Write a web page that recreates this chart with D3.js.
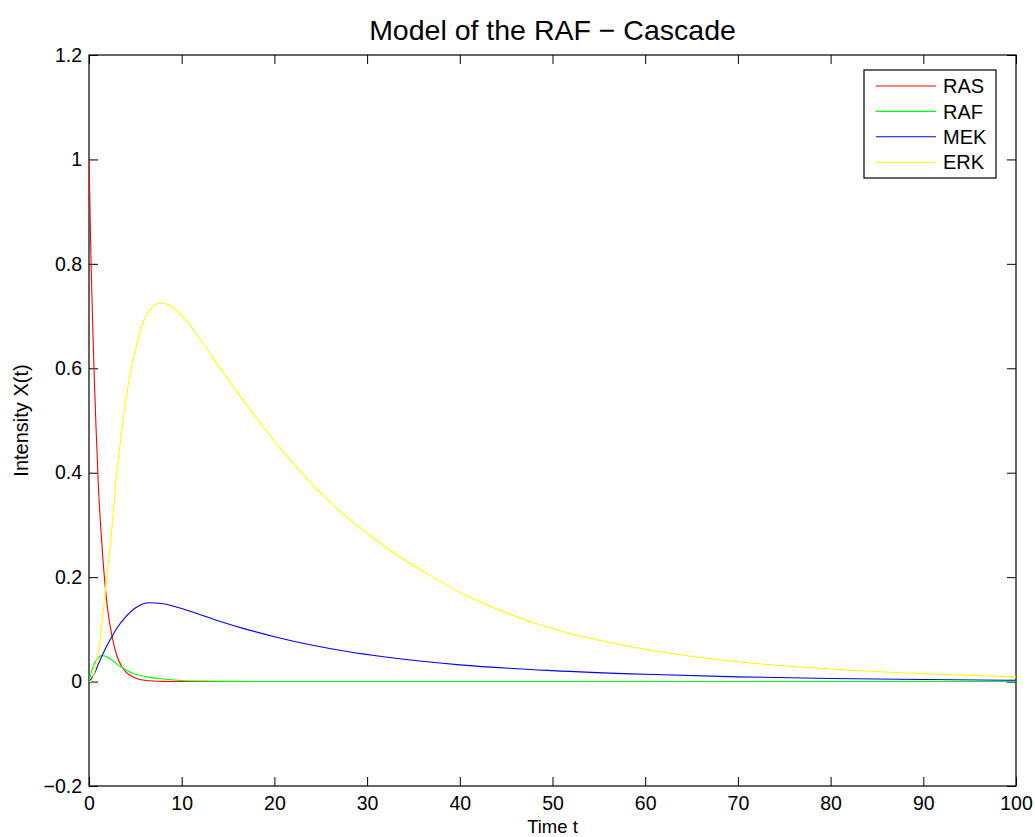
<!DOCTYPE html>
<html>
<head>
<meta charset="utf-8">
<script src="https://cdn.jsdelivr.net/npm/d3@7"></script>
<style>
  body { margin: 0; background: #fff; }
  text { font-family: "Liberation Sans", Arial, Helvetica, sans-serif; fill: #000; }
</style>
</head>
<body>
<div id="chart"></div>
<script>
/* Model of the RAF - Cascade: values */

var seriesNames = ["RAS", "RAF", "MEK", "ERK"],
  seriesColors = ["#ff0000", "#00ff00", "#0000ff", "#ffff00"];

var rasTime = [0, 0.25, 0.5, 0.75, 1, 1.25, 1.5, 2, 2.5, 3, 3.5, 4, 5, 6, 8, 10, 15, 100],
  rasValues = [1, 0.78, 0.62, 0.49, 0.38, 0.3, 0.235, 0.14, 0.085, 0.05, 0.03, 0.018, 0.007, 0.0025, 0.0004, 0, 0, 0];

var rafTime = [0, 0.25, 0.5, 0.75, 1, 1.4, 2, 2.5, 3, 3.5, 4, 5, 6, 7, 8, 10, 12, 15, 20, 100],
  rafValues = [0, 0.018, 0.031, 0.04, 0.046, 0.05, 0.047, 0.041, 0.034, 0.028, 0.022, 0.014, 0.01, 0.007, 0.005, 0.002, 0.001, 0.0003, 0, 0];

var mekTime = [0, 0.5, 1, 1.5, 2, 2.5, 3, 4, 5, 6.5, 8, 10, 12, 14, 17, 20, 24, 28, 32, 40, 50, 60, 70, 80, 90, 100],
  mekValues = [0, 0.012, 0.033, 0.053, 0.071, 0.087, 0.102, 0.125, 0.141, 0.151, 0.149, 0.14, 0.128, 0.116, 0.1, 0.086, 0.07, 0.057, 0.047, 0.032, 0.021, 0.014, 0.009, 0.006, 0.004, 0.0025];

var erkTime = [0, 0.3, 0.65, 1.2, 1.8, 2.4, 3, 3.5, 4.2, 5, 6, 7, 7.7, 8.5, 9.8, 11.5, 13.4, 17, 20, 22.8, 26.4, 30, 33.5, 37.1, 40.7, 44.3, 47.9, 51.5, 55.1, 60, 70, 80, 90, 100],
  erkValues = [0, 0.002, 0.022, 0.08, 0.18, 0.28, 0.4, 0.475, 0.565, 0.635, 0.695, 0.72, 0.725, 0.722, 0.705, 0.668, 0.619, 0.53, 0.461, 0.402, 0.337, 0.284, 0.239, 0.2, 0.165, 0.137, 0.113, 0.094, 0.079, 0.062, 0.038, 0.024, 0.015, 0.009];

var xTicks = [0, 10, 20, 30, 40, 50, 60, 70, 80, 90, 100],
  yTicks = [-0.2, 0, 0.2, 0.4, 0.6, 0.8, 1, 1.2];

var width = 1035,
  height = 837,
  margin = {top: 55, right: 19, bottom: 51, left: 89},
  tickLength = 9;

var plotW = width - margin.left - margin.right,
  plotH = height - margin.top - margin.bottom;

var series = [
  {name: seriesNames[0], color: seriesColors[0], t: rasTime, v: rasValues},
  {name: seriesNames[1], color: seriesColors[1], t: rafTime, v: rafValues},
  {name: seriesNames[2], color: seriesColors[2], t: mekTime, v: mekValues},
  {name: seriesNames[3], color: seriesColors[3], t: erkTime, v: erkValues}
];

var x = d3.scaleLinear().domain([0, 100]).range([0, plotW]),
  y = d3.scaleLinear().domain([-0.2, 1.2]).range([plotH, 0]);

var svg = d3.select("#chart").append("svg")
  .attr("width", width)
  .attr("height", height);

svg.append("rect").attr("width", width).attr("height", height).attr("fill", "#fff");

var g = svg.append("g")
  .attr("transform", "translate(" + margin.left + "," + margin.top + ")");

g.append("clipPath").attr("id", "plotClip")
  .append("rect").attr("width", plotW).attr("height", plotH);

function fmt(d) {
  return d < 0 ? "\u2212" + Math.abs(d) : String(d);
}

// Axes: labels on bottom/left, inward ticks on all four sides.
g.append("g")
  .attr("transform", "translate(0," + plotH + ")")
  .call(d3.axisBottom(x).tickValues(xTicks).tickSize(-tickLength).tickPadding(10).tickFormat(fmt));

g.append("g")
  .call(d3.axisLeft(y).tickValues(yTicks).tickSize(-tickLength).tickPadding(7).tickFormat(fmt));

g.append("g")
  .call(d3.axisTop(x).tickValues(xTicks).tickSize(-tickLength).tickFormat(""));

g.append("g")
  .attr("transform", "translate(" + plotW + ",0)")
  .call(d3.axisRight(y).tickValues(yTicks).tickSize(-tickLength).tickFormat(""));

g.selectAll(".domain").remove();
g.selectAll(".tick line").attr("stroke", "#000");
g.selectAll(".tick text").style("font-size", "19.5px").attr("fill", "#000");

// Box around the plot area.
g.append("rect")
  .attr("width", plotW)
  .attr("height", plotH)
  .attr("fill", "none")
  .attr("stroke", "#000")
  .attr("stroke-width", 1.2);

// Curves.
var line = d3.line()
  .x(function (d) { return x(d[0]); })
  .y(function (d) { return y(d[1]); })
  .curve(d3.curveMonotoneX);

g.append("g").attr("clip-path", "url(#plotClip)")
  .selectAll("path")
  .data(series)
  .enter().append("path")
  .attr("fill", "none")
  .attr("stroke", function (d) { return d.color; })
  .attr("stroke-width", 1.1)
  .attr("d", function (d) {
    return line(d.t.map(function (t, i) { return [t, d.v[i]]; }));
  });

// Legend.
var legend = g.append("g")
  .attr("transform", "translate(" + (864 - margin.left) + "," + (70 - margin.top) + ")");

legend.append("rect")
  .attr("width", 132)
  .attr("height", 108)
  .attr("fill", "#fff")
  .attr("stroke", "#000")
  .attr("stroke-width", 1.2);

var keys = legend.selectAll(".key")
  .data(series)
  .enter().append("g")
  .attr("class", "key")
  .attr("transform", function (d, i) { return "translate(0," + (16 + i * 25.4) + ")"; });

keys.append("line")
  .attr("x1", 12).attr("x2", 72)
  .attr("stroke", function (d) { return d.color; })
  .attr("stroke-width", 1.1);

keys.append("text")
  .attr("x", 79)
  .attr("dy", "0.36em")
  .style("font-size", "20px")
  .text(function (d) { return d.name; });

// Title and axis labels.
svg.append("text")
  .attr("x", margin.left + plotW / 2)
  .attr("y", 40)
  .attr("text-anchor", "middle")
  .style("font-size", "28.5px")
  .text("Model of the RAF \u2212 Cascade");

svg.append("text")
  .attr("x", margin.left + plotW / 2)
  .attr("y", 833)
  .attr("text-anchor", "middle")
  .style("font-size", "18.5px")
  .text("Time t");

svg.append("text")
  .attr("transform", "translate(28," + (margin.top + plotH / 2) + ") rotate(-90)")
  .attr("text-anchor", "middle")
  .style("font-size", "20px")
  .text("Intensity X(t)");
</script>
</body>
</html>
